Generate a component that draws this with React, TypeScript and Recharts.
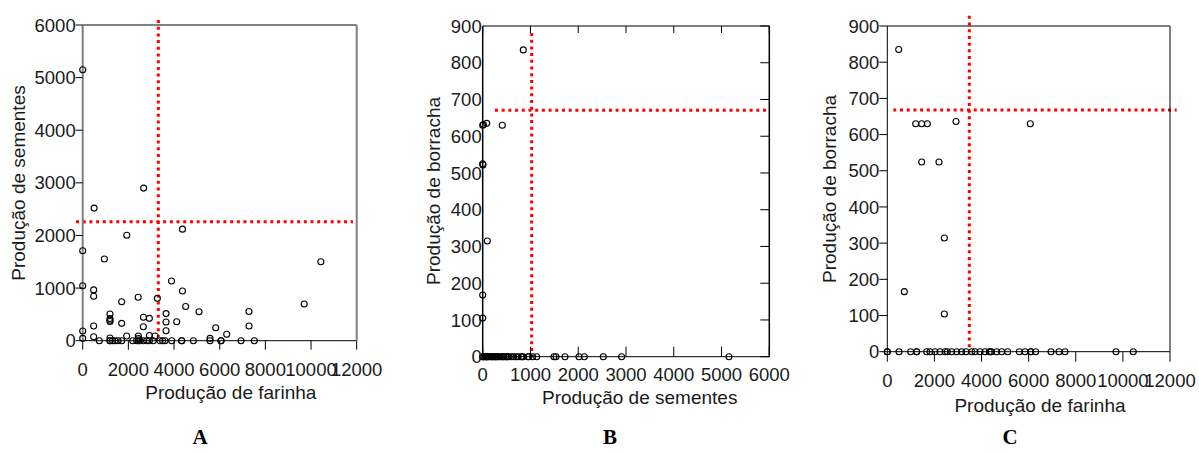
import { ScatterChart, Scatter, XAxis, YAxis, ReferenceLine, Label } from "recharts";

const FONT = '"Liberation Sans", Arial, sans-serif';
const INK = "#1a1a1a";

// A: farinha x sementes
const farinhaA = [0, 500, 2670, 4370, 1930, 0, 950, 10430, 3890, 0, 480, 4370, 480, 2430, 3270, 1707, 9700, 4510, 5095, 7280, 1195, 3650, 2660, 2920, 1195, 1195, 1195, 3650, 4117, 1707, 2656, 480, 7284, 5824, 3650, 0, 6307, 480, 0, 1927, 2437, 2919, 3167, 1195, 5576, 2437];
const sementesA = [5150, 2520, 2900, 2120, 2005, 1710, 1553, 1500, 1135, 1045, 965, 945, 845, 825, 805, 740, 697, 650, 550, 555, 507, 515, 445, 425, 420, 390, 365, 355, 361, 330, 266, 280, 280, 247, 190, 184, 122, 76, 45, 89, 89, 100, 89, 50, 45, 40];
const farinhaA0 = [730, 1195, 1195, 1415, 1707, 2190, 2364, 2510, 2656, 2919, 3094, 3386, 3605, 3898, 4336, 4336, 4846, 5576, 6058, 6058, 6934, 7517, 1300, 1550, 2800, 3500, 2450];

// B: sementes x borracha
const sementesB = [850, 0, 15, 84, 410, 0, 5, 97, 0, 0];
const borrachaB = [835, 630, 632, 635, 630, 525, 522, 315, 168, 105];
const sementesB0 = [0, 0, 20, 45, 60, 76, 89, 100, 122, 150, 184, 190, 220, 247, 266, 280, 300, 330, 361, 400, 425, 445, 480, 507, 520, 551, 600, 646, 697, 742, 805, 825, 845, 944, 969, 1045, 1130, 1492, 1535, 1722, 2016, 2127, 2524, 2908, 5155];

// C: farinha x borracha
const farinhaC = [484, 1205, 1460, 1698, 2916, 6070, 1460, 2194, 2420, 722, 2420];
const borrachaC = [835, 630, 630, 630, 636, 630, 524, 524, 314, 166, 104];
const farinhaC0 = [0, 0, 497, 992, 1246, 1246, 1671, 1812, 2025, 2237, 2449, 2548, 2732, 2945, 3157, 3340, 3582, 3723, 3935, 4147, 4330, 4401, 4401, 4643, 4855, 5110, 5603, 5845, 6086, 6086, 6298, 6948, 7288, 7543, 9707, 10441];

const ticksFarinha = [0, 2000, 4000, 6000, 8000, 10000, 12000];
const ticksSementes = [0, 1000, 2000, 3000, 4000, 5000, 6000];
const ticksBorracha = [0, 100, 200, 300, 400, 500, 600, 700, 800, 900];

// dotted cut lines (means)
const corteA = { x: 3311, y: 2262 };
const corteB = { x: 1025, y: 671 };
const corteC = { x: 3481, y: 668 };

const pairs = (xs: number[], ys: number[]) => xs.map((x, i) => ({ x, y: ys[i] }));
const onZero = (xs: number[]) => xs.map((x) => ({ x, y: 0 }));

const dataA = [...pairs(farinhaA, sementesA), ...onZero(farinhaA0)];
const dataB = [...pairs(sementesB, borrachaB), ...onZero(sementesB0)];
const dataC = [...pairs(farinhaC, borrachaC), ...onZero(farinhaC0)];

const Ring = (p: any) => (
  <circle cx={p.cx} cy={p.cy} r={3} fill="none" stroke="#000" strokeWidth={1.1} />
);

const tickStyle = { fontFamily: FONT, fontSize: 18.5, fill: INK };
const red = { stroke: "#ff0000", strokeWidth: 3, strokeDasharray: "3 3.7" };

const title = (text: string, x: number, y: number, vertical = false) => (
  <Label
    content={() => (
      <text
        x={x}
        y={y}
        transform={vertical ? `rotate(-90 ${x} ${y})` : undefined}
        textAnchor="middle"
        fontFamily={FONT}
        fontSize={19}
        fill={INK}
      >
        {text}
      </text>
    )}
  />
);

// B has inward ticks on the bottom, labels stay outside
const InwardBottomTick = (props: any) => {
  const { x, y, payload } = props;
  return (
    <g>
      <line x1={x} x2={x} y1={y} y2={y - 10} stroke="#000" />
      <text x={x} y={y + 11.6} dy="0.71em" textAnchor="middle" {...tickStyle}>
        {payload.value}
      </text>
    </g>
  );
};

// panel B layout
const B_LEFT = 400;
const B_W = 390;
const B_H = 453;
const B_MARGIN = { top: 26, right: 20.7, bottom: 0, left: 0 };
const B_YAXIS_W = 82.7;
const B_XAXIS_H = 96.3;
const bMaxX = 6000;
const bMaxY = 900;

// top and right sides of box B with inward ticks (page coordinates)
function BoxB() {
  const left = B_LEFT + B_MARGIN.left + B_YAXIS_W;
  const right = B_LEFT + B_W - B_MARGIN.right;
  const top = B_MARGIN.top;
  const bottom = B_H - B_MARGIN.bottom - B_XAXIS_H;
  const w = right - left;
  const h = bottom - top;
  return (
    <g stroke="#000" fill="none">
      <line x1={left} x2={right} y1={top} y2={top} strokeWidth={1.2} />
      <line x1={right} x2={right} y1={top} y2={bottom} strokeWidth={1.5} />
      {ticksSementes.map((t) => {
        const x = left + (w * t) / bMaxX;
        return <line key={`t${t}`} x1={x} x2={x} y1={top} y2={top + 7} />;
      })}
      {ticksBorracha.map((t) => {
        const y = bottom - (h * t) / bMaxY;
        return <line key={`r${t}`} x1={right} x2={right - 9} y1={y} y2={y} />;
      })}
    </g>
  );
}

function PanelA() {
  return (
    <ScatterChart width={382} height={453} margin={{ top: 24, right: 24.3, bottom: 0, left: 0 }}>
      <XAxis type="number" dataKey="x" domain={[0, 12000]} ticks={ticksFarinha} interval={0}
        height={112.3} tick={tickStyle} tickSize={9} tickMargin={13}
        axisLine={{ stroke: "#000" }} tickLine={{ stroke: "#000" }}>
        {title("Produção de farinha", 230.8, 399)}
      </XAxis>
      <XAxis xAxisId="top" orientation="top" type="number" domain={[0, 12000]} allowDataOverflow
        ticks={ticksFarinha} height={1} tick={false} tickSize={10}
        axisLine={{ stroke: "#000" }} tickLine={{ stroke: "#000" }} />
      <YAxis type="number" dataKey="y" domain={[0, 6000]} ticks={ticksSementes} interval={0}
        width={82.7} tick={tickStyle} tickSize={7} tickMargin={0}
        axisLine={{ stroke: "#808080", strokeWidth: 2 }} tickLine={{ stroke: "#000" }}>
        {title("Produção de sementes", 25.1, 183, true)}
      </YAxis>
      <YAxis yAxisId="right" orientation="right" type="number" domain={[0, 6000]} allowDataOverflow
        ticks={ticksSementes} width={1} tick={false} tickSize={8}
        axisLine={{ stroke: "#808080", strokeWidth: 2 }} tickLine={{ stroke: "#000" }} />
      <ReferenceLine segment={[{ x: corteA.x, y: 6095 }, { x: corteA.x, y: 70 }]} ifOverflow="visible" {...red} />
      <ReferenceLine segment={[{ x: -293, y: corteA.y }, { x: 11840, y: corteA.y }]} ifOverflow="visible" {...red} />
      <Scatter data={dataA} shape={Ring} isAnimationActive={false} />
    </ScatterChart>
  );
}

function PanelB() {
  return (
    <ScatterChart width={B_W} height={B_H} margin={B_MARGIN}>
      <XAxis type="number" dataKey="x" domain={[0, bMaxX]} ticks={ticksSementes} interval={0}
        height={B_XAXIS_H} tick={InwardBottomTick} tickSize={0} tickMargin={0}
        axisLine={{ stroke: "#000" }} tickLine={false}>
        {title("Produção de sementes", 239.7, 404)}
      </XAxis>
      <YAxis type="number" dataKey="y" domain={[0, bMaxY]} ticks={ticksBorracha} interval={0}
        width={B_YAXIS_W} tick={tickStyle} tickSize={0} tickMargin={1}
        axisLine={{ stroke: "#000", strokeWidth: 1.5 }} tickLine={false}>
        {title("Produção de borracha", 40, 191, true)}
      </YAxis>
      <ReferenceLine segment={[{ x: corteB.x, y: 881 }, { x: corteB.x, y: 2 }]} ifOverflow="visible" {...red} />
      <ReferenceLine segment={[{ x: 257, y: corteB.y }, { x: 5971, y: corteB.y }]} ifOverflow="visible" {...red} />
      <Scatter data={dataB} shape={Ring} isAnimationActive={false} />
    </ScatterChart>
  );
}

function PanelC() {
  return (
    <ScatterChart width={409} height={453} margin={{ top: 25, right: 28, bottom: 0, left: 0 }}>
      <XAxis type="number" dataKey="x" domain={[0, 12000]} ticks={ticksFarinha} interval={0}
        height={101.3} tick={tickStyle} tickSize={10} tickMargin={11.8}
        axisLine={{ stroke: "#000" }} tickLine={{ stroke: "#000" }}>
        {title("Produção de farinha", 250, 411.8)}
      </XAxis>
      <XAxis xAxisId="top" orientation="top" type="number" domain={[0, 12000]} allowDataOverflow
        ticks={ticksFarinha} height={1} tick={false} tickSize={10}
        axisLine={{ stroke: "#000" }} tickLine={{ stroke: "#000" }} />
      <YAxis type="number" dataKey="y" domain={[0, 900]} ticks={ticksBorracha} interval={0}
        width={97.3} tick={tickStyle} tickSize={8} tickMargin={0}
        axisLine={{ stroke: "#000" }} tickLine={{ stroke: "#000" }}>
        {title("Produção de borracha", 45.8, 189, true)}
      </YAxis>
      <YAxis yAxisId="right" orientation="right" type="number" domain={[0, 900]} allowDataOverflow
        ticks={ticksBorracha} width={1} tick={false} tickSize={9}
        axisLine={{ stroke: "#000" }} tickLine={{ stroke: "#000" }} />
      <ReferenceLine segment={[{ x: corteC.x, y: 928 }, { x: corteC.x, y: 0 }]} ifOverflow="visible" {...red} />
      <ReferenceLine segment={[{ x: 255, y: corteC.y }, { x: 12283, y: corteC.y }]} ifOverflow="visible" {...red} />
      <Scatter data={dataC} shape={Ring} isAnimationActive={false} />
    </ScatterChart>
  );
}

const panelLetters = [
  { letter: "A", x: 200 },
  { letter: "B", x: 610 },
  { letter: "C", x: 1010 },
];

export default function App() {
  return (
    <div style={{ position: "absolute", left: 0, top: 0, width: 1199, height: 453, background: "#fff", overflow: "hidden" }}>
      <div style={{ position: "absolute", left: 0, top: 0 }}><PanelA /></div>
      <div style={{ position: "absolute", left: B_LEFT, top: 0 }}><PanelB /></div>
      <div style={{ position: "absolute", left: 790, top: 0 }}><PanelC /></div>
      <svg width={1199} height={453} style={{ position: "absolute", left: 0, top: 0, pointerEvents: "none" }}>
        <BoxB />
        {panelLetters.map((p) => (
          <text key={p.letter} x={p.x} y={444} textAnchor="middle"
            fontFamily='"Liberation Serif", "Times New Roman", serif' fontWeight="bold" fontSize={21} fill="#000">
            {p.letter}
          </text>
        ))}
      </svg>
    </div>
  );
}
